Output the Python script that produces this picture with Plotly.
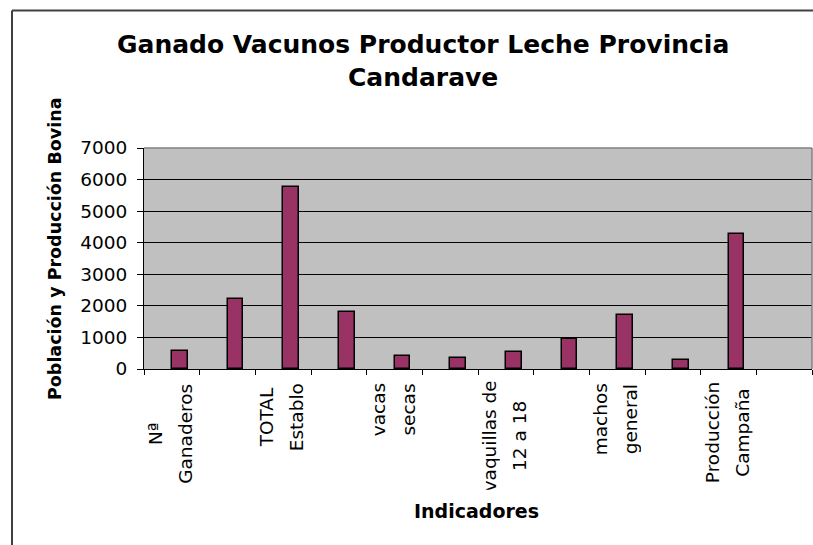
import plotly.graph_objects as go

# ---- data ----
category_index = [1, 2, 3, 4, 5, 6, 7, 8, 9, 10, 11, 12]
values = [580, 2230, 5760, 1800, 400, 350, 530, 940, 1720, 300, 4280, None]
label_positions = [1, 3, 5, 7, 9, 11]
label_line1 = ["Nª", "TOTAL", "vacas", "vaquillas de", "machos", "Producción"]
label_line2 = ["Ganaderos", "Establo", "secas", "12 a 18", "general", "Campaña"]
y_ticks = [0, 1000, 2000, 3000, 4000, 5000, 6000, 7000]

title_text = "Ganado Vacunos Productor Leche Provincia<br>Candarave"
x_title = "Indicadores"
y_title = "Población y Producción Bovina"

# ---- layout geometry (pixels) ----
W, H = 813, 545
PL, PR, PT, PB = 144, 812, 148, 369


def px_x(x):
    return (x - PL) / (PR - PL)


def px_y(y):
    return (PB - y) / (PB - PT)


FONT = "DejaVu Sans"
label_box_widths = [104, 70, 56, 108, 74, 102]

fig = go.Figure()
fig.add_trace(go.Bar(
    x=category_index,
    y=values,
    width=0.2857,
    offset=0,
    marker=dict(color="#993366", line=dict(color="#000000", width=1.5)),
    showlegend=False,
    hoverinfo="x+y",
))

annotations = []
for pos, l1, l2, bw in zip(label_positions, label_line1, label_line2, label_box_widths):
    for txt, shift in ((l1, -17), (l2, 13)):
        annotations.append(dict(
            x=pos, xref="x", y=0, yref="paper", yshift=-11,
            text=txt, showarrow=False, textangle=-90,
            xanchor="center", yanchor="top", xshift=shift,
            width=bw, align="center",
            font=dict(family=FONT, size=18.5, color="#000000"),
        ))

annotations.append(dict(
    x=px_x(423), y=px_y(61), xref="paper", yref="paper",
    text=title_text, showarrow=False, xanchor="center", yanchor="middle",
    font=dict(family=FONT, size=25, color="#000000", weight="bold"),
))
annotations.append(dict(
    x=px_x(476), y=px_y(511), xref="paper", yref="paper",
    text=x_title, showarrow=False, xanchor="center", yanchor="middle",
    font=dict(family=FONT, size=19, color="#000000", weight="bold"),
))
annotations.append(dict(
    x=px_x(55), y=px_y(249), xref="paper", yref="paper",
    text=y_title, showarrow=False, textangle=-90,
    xanchor="center", yanchor="middle",
    font=dict(family=FONT, size=17.5, color="#000000", weight="bold"),
))

shapes = [
    # outer chart frame (left and top edges visible)
    dict(type="line", xref="paper", yref="paper",
         x0=px_x(12), x1=px_x(12), y0=px_y(10.5), y1=px_y(548),
         line=dict(color="#404040", width=2)),
    dict(type="line", xref="paper", yref="paper",
         x0=px_x(12), x1=px_x(815), y0=px_y(10.5), y1=px_y(10.5),
         line=dict(color="#404040", width=2)),
    # plot area border top/right (gray)
    dict(type="line", xref="paper", yref="paper",
         x0=0, x1=1, y0=1, y1=1, line=dict(color="#808080", width=1.5)),
    dict(type="line", xref="paper", yref="paper",
         x0=1, x1=1, y0=0, y1=1, line=dict(color="#808080", width=1.5)),
]

fig.update_layout(
    width=W, height=H,
    margin=dict(l=PL, r=W - PR, t=PT, b=H - PB, autoexpand=False),
    paper_bgcolor="#FFFFFF",
    plot_bgcolor="#C0C0C0",
    bargap=0,
    annotations=annotations,
    shapes=shapes,
    font=dict(family=FONT, color="#000000"),
    xaxis=dict(
        range=[0.5, 12.5],
        tickmode="array",
        tickvals=[i + 0.5 for i in range(0, 13)],
        ticks="outside", ticklen=5, tickwidth=1, tickcolor="#000000",
        showticklabels=False,
        showgrid=False, zeroline=False,
        showline=True, linecolor="#000000", linewidth=1,
        fixedrange=True,
    ),
    yaxis=dict(
        range=[0, 7000],
        tickmode="array",
        tickvals=y_ticks,
        ticktext=[str(v) for v in y_ticks],
        ticks="outside", ticklen=6, tickwidth=1, tickcolor="#000000",
        ticklabelstandoff=6,
        tickfont=dict(family=FONT, size=18.5, color="#000000"),
        showgrid=True, gridcolor="#000000", gridwidth=1,
        zeroline=False,
        showline=True, linecolor="#000000", linewidth=1,
        fixedrange=True,
    ),
)

fig.write_html(
    "out.html",
    config={"displayModeBar": False},
    post_script="document.body.style.margin='0';document.body.style.overflow='hidden';",
)
